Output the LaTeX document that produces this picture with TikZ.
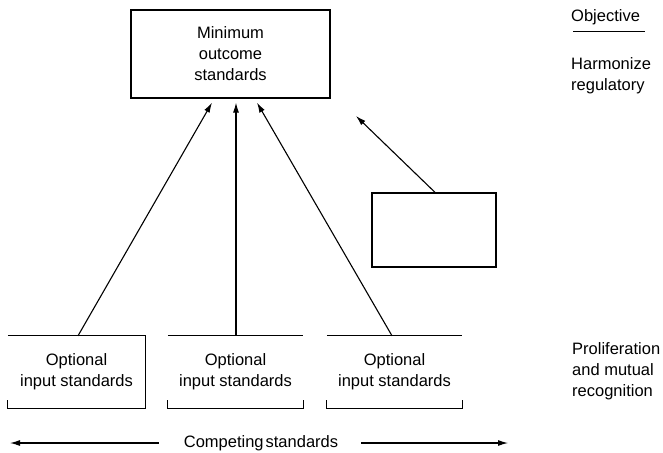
\documentclass[tikz,border=0pt]{standalone}
\usepackage{fontspec}
\setmainfont{Liberation Sans}
\usetikzlibrary{arrows.meta,calc}
\begin{document}
\begin{tikzpicture}[x=1pt,y=-1pt,
  txt/.style={font=\fontsize{16.5}{21}\selectfont, inner sep=0pt},
  box/.style={draw, line width=1.3pt, inner sep=0pt},
  edge/.style={line width=1.3pt},
  arr/.style={line width=1.1pt, -{Latex[length=10pt,width=6pt]}},
  lbl/.style={txt, align=left, anchor=west},
]
\useasboundingbox (0,0) rectangle (663,452);
% top box
\node[box, txt, minimum width=199pt, minimum height=88pt, align=center] (top) at (230.5,54) {Minimum\\outcome\\standards};
% right empty box
\node[box, minimum width=124pt, minimum height=74pt] (rb) at (434,230) {};
% bottom boxes
\node[txt, minimum width=137pt, minimum height=72pt, align=center] (b1) at (76.5,372) {Optional\\input standards};
\node[txt, minimum width=135pt, minimum height=72pt, align=center] (b2) at (235.5,372) {Optional\\input standards};
\node[txt, minimum width=135pt, minimum height=72pt, align=center] (b3) at (394.5,372) {Optional\\input standards};
\draw[edge] (b1.north west) -- (b1.north east) -- (b1.south east) -- (b1.south west) -- ++(0,-8);
\draw[edge] (b2.north west) -- (b2.north east);
\draw[edge] (b2.south west) ++(0,-8) -- (b2.south west) -- (b2.south east) -- ++(0,-8);
\draw[edge] (b3.north west) -- (b3.north east);
\draw[edge] (b3.south west) ++(0,-8) -- (b3.south west) -- (b3.south east) -- ++(0,-8);
% arrows to top box
\draw[arr] ([xshift=1.5pt]b1.north) -- ([xshift=-18.5pt,yshift=-4pt]top.south);
\draw[arr] ([xshift=0.5pt]b2.north) -- ([xshift=5.5pt,yshift=-4pt]top.south);
\draw[arr] ([xshift=-2.5pt]b3.north) -- ([xshift=26.5pt,yshift=-4pt]top.south);
\coordinate (rt) at (356,116);
\draw[arr] ([xshift=1pt]rb.north) -- (rt);
% right column labels
\node[txt, anchor=west] (obj) at (571,17) {Objective};
\draw[line width=1pt] (obj.west) ++(2,15) -- ++(72,0);
\node[lbl] (harm) at (571,76) {Harmonize\\regulatory};
\node[lbl] (prol) at (572,371) {Proliferation\\and mutual\\recognition};
% competing standards
\node[txt] (comp) at (261,443) {Competing\kern2pt standards};
\coordinate (cl) at (10,443);
\coordinate (cr) at (508,443);
\draw[arr] (comp.west) ++(-25,0) -- (cl);
\draw[arr] (comp.east) ++(23,0) -- (cr);
\end{tikzpicture}
\end{document}
